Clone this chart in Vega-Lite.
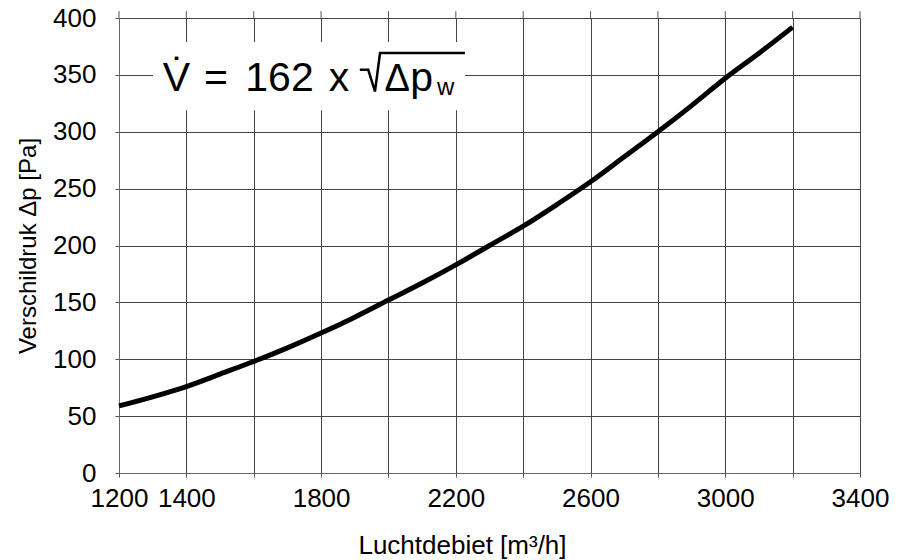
{
  "$schema": "https://vega.github.io/schema/vega-lite/v6.json",
  "width": 741,
  "height": 455,
  "autosize": {"type": "none"},
  "padding": {"left": 119, "top": 18, "right": 38, "bottom": 87},
  "background": "white",
  "config": {
    "view": {"stroke": null},
    "font": "Liberation Sans",
    "axis": {
      "labelFont": "Liberation Sans",
      "titleFont": "Liberation Sans",
      "labelFontSize": 26,
      "titleFontSize": 24,
      "titleFontWeight": "normal",
      "labelColor": "black",
      "titleColor": "black",
      "gridColor": "#444",
      "gridOpacity": 1,
      "gridWidth": 1,
      "domainColor": "#666",
      "tickColor": "#555",
      "tickSize": 4
    }
  },
  "datasets": {
    "curve": [
      {"flow": 1200, "dp": 59},
      {"flow": 1300, "dp": 67},
      {"flow": 1400, "dp": 76},
      {"flow": 1500, "dp": 87},
      {"flow": 1600, "dp": 98},
      {"flow": 1700, "dp": 110},
      {"flow": 1800, "dp": 123},
      {"flow": 1900, "dp": 137},
      {"flow": 2000, "dp": 152},
      {"flow": 2100, "dp": 167},
      {"flow": 2200, "dp": 183},
      {"flow": 2300, "dp": 200},
      {"flow": 2400, "dp": 217},
      {"flow": 2500, "dp": 236},
      {"flow": 2600, "dp": 256},
      {"flow": 2700, "dp": 278},
      {"flow": 2800, "dp": 300},
      {"flow": 2900, "dp": 323},
      {"flow": 3000, "dp": 347},
      {"flow": 3100, "dp": 369},
      {"flow": 3200, "dp": 392}
    ],
    "topticks": [
      {"x": 1200}, {"x": 1400}, {"x": 1600}, {"x": 1800}, {"x": 2000}, {"x": 2200},
      {"x": 2400}, {"x": 2600}, {"x": 2800}, {"x": 3000}, {"x": 3200}, {"x": 3400}
    ],
    "box": [{"x1": 1301, "x2": 2227, "y1": 319, "y2": 379}],
    "formula": [
      {"x": 1330, "y": 336, "text": "V\u0307"},
      {"x": 1452, "y": 336, "text": "="},
      {"x": 1575, "y": 336, "text": "162"},
      {"x": 1823, "y": 336, "text": "x"},
      {"x": 2065, "y": 336, "text": "p"}
    ],
    "delta": [{"x": 1988, "y": 336, "text": "\u0394"}],
    "sub": [{"x": 2144, "y": 332.5, "text": "w"}],
    "radical": [
      {"i": 1, "x": 1915, "y": 354.5},
      {"i": 2, "x": 1940, "y": 354.5},
      {"i": 3, "x": 1960, "y": 335.4},
      {"i": 4, "x": 1975, "y": 369.2},
      {"i": 5, "x": 2227, "y": 369.2}
    ]
  },
  "layer": [
    {
      "data": {"name": "curve"},
      "mark": {"type": "line", "color": "black", "strokeWidth": 5, "interpolate": "monotone"},
      "encoding": {
        "x": {
          "field": "flow", "type": "quantitative",
          "scale": {"domain": [1200, 3400], "nice": false, "zero": false},
          "axis": {
            "title": "Luchtdebiet [m³/h]",
            "titleFontSize": 26,
            "titleX": 343,
            "titleY": 80,
            "titleAlign": "center",
            "titleBaseline": "alphabetic",
            "values": [1200, 1400, 1600, 1800, 2000, 2200, 2400, 2600, 2800, 3000, 3200, 3400],
            "format": "d",
            "labelExpr": "(datum.value >= 1600 && (datum.value - 1600) % 400 == 0) ? '' : datum.label",
            "labelPadding": 8,
            "labelFlush": false,
            "labelOverlap": false
          }
        },
        "y": {
          "field": "dp", "type": "quantitative",
          "scale": {"domain": [0, 400], "nice": false},
          "axis": {
            "title": "Verschildruk Δp [Pa]",
            "values": [0, 50, 100, 150, 200, 250, 300, 350, 400],
            "labelPadding": 19,
            "titlePadding": 12,
            "labelFlush": false,
            "labelOverlap": false
          }
        }
      }
    },
    {
      "data": {"name": "topticks"},
      "mark": {"type": "rule", "color": "#555", "strokeWidth": 1},
      "encoding": {
        "x": {"field": "x", "type": "quantitative"},
        "y": {"datum": 400, "type": "quantitative"},
        "y2": {"datum": 406}
      }
    },
    {
      "data": {"name": "box"},
      "mark": {"type": "rect", "color": "white"},
      "encoding": {
        "x": {"field": "x1", "type": "quantitative"},
        "x2": {"field": "x2"},
        "y": {"field": "y1", "type": "quantitative"},
        "y2": {"field": "y2"}
      }
    },
    {
      "data": {"name": "formula"},
      "mark": {"type": "text", "align": "left", "baseline": "alphabetic", "fontSize": 41, "font": "Liberation Sans", "color": "black"},
      "encoding": {
        "x": {"field": "x", "type": "quantitative"},
        "y": {"field": "y", "type": "quantitative"},
        "text": {"field": "text"}
      }
    },
    {
      "data": {"name": "delta"},
      "mark": {"type": "text", "align": "left", "baseline": "alphabetic", "fontSize": 38, "font": "Liberation Sans", "color": "black"},
      "encoding": {
        "x": {"field": "x", "type": "quantitative"},
        "y": {"field": "y", "type": "quantitative"},
        "text": {"field": "text"}
      }
    },
    {
      "data": {"name": "sub"},
      "mark": {"type": "text", "align": "left", "baseline": "alphabetic", "fontSize": 24, "font": "Liberation Sans", "color": "black"},
      "encoding": {
        "x": {"field": "x", "type": "quantitative"},
        "y": {"field": "y", "type": "quantitative"},
        "text": {"field": "text"}
      }
    },
    {
      "data": {"name": "radical"},
      "mark": {"type": "line", "color": "black", "strokeWidth": 2.5, "strokeJoin": "miter"},
      "encoding": {
        "x": {"field": "x", "type": "quantitative"},
        "y": {"field": "y", "type": "quantitative"},
        "order": {"field": "i", "type": "quantitative"}
      }
    }
  ]
}
